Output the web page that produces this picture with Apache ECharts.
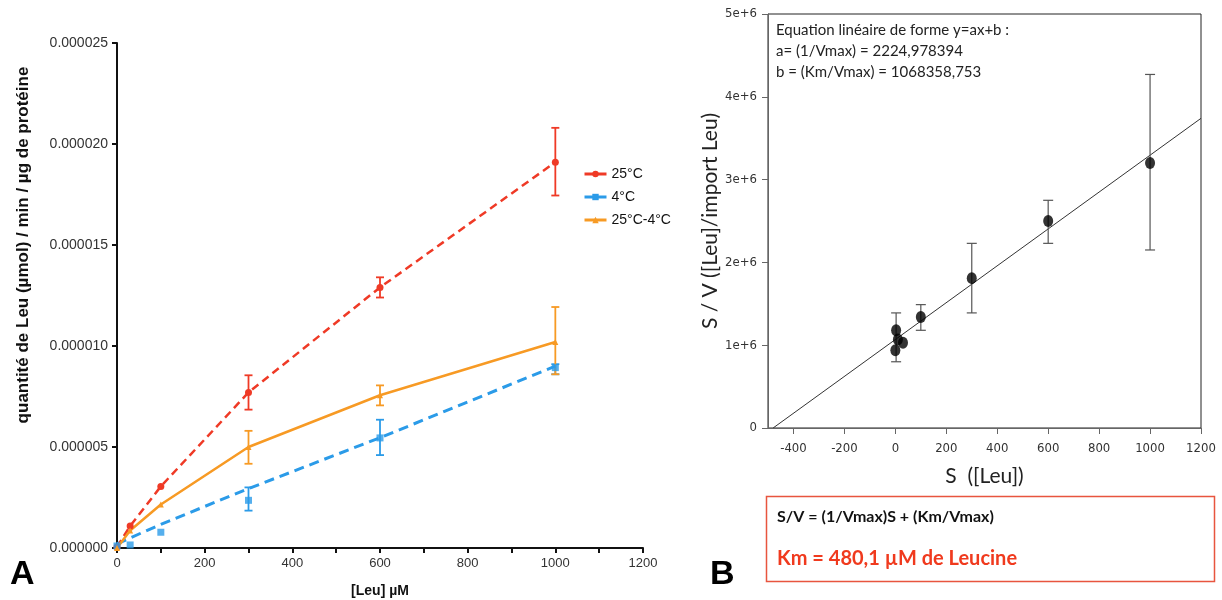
<!DOCTYPE html>
<html>
<head>
<meta charset="utf-8">
<script src="https://cdn.jsdelivr.net/npm/echarts@6/dist/echarts.min.js"></script>
<style>
  html, body { margin: 0; padding: 0; background: #fff; }
  #chart { width: 1222px; height: 600px; }
</style>
</head>
<body>
<div id="chart"></div>
<script>
// A : import de Leu selon [Leu], B : linéarisation S/V = f(S)

// --- données A (valeurs en µmol/min/µg, x1e-6) ---
const leuX = [0, 30, 100, 300, 600, 1000]
const hot = [0.05, 1.09, 3.05, 7.7, 12.9, 19.1]          // 25°C
const hotErr = [[300, 6.85, 8.55], [600, 12.4, 13.4], [1000, 17.45, 20.8]]
const cold = [0.1, 0.15, 0.78, 2.36, 5.45, 8.93]          // 4°C (points)
const coldErr = [[300, 1.85, 3.0], [600, 4.6, 6.35], [1000, 8.6, 9.1]]
const coldFit = [0.2, 0.5, 1.17, 2.94, 5.46, 9.0]         // 4°C (courbe)
const diff = [0, 0.87, 2.15, 5.0, 7.56, 10.2]             // 25°C-4°C
const diffErr = [[300, 4.17, 5.8], [600, 7.06, 8.05], [1000, 8.6, 11.93]]
const yTicksA = [0, 5, 10, 15, 20, 25]

// --- données B ---
const sX = [0, 3, 10, 30, 100, 300, 600, 1000]
const sv = [0.94e6, 1.18e6, 1.07e6, 1.03e6, 1.34e6, 1.81e6, 2.5e6, 3.2e6]
const svErr = [[3, 0.8e6, 1.39e6], [100, 1.18e6, 1.49e6], [300, 1.39e6, 2.23e6], [600, 2.23e6, 2.75e6], [1000, 2.15e6, 4.27e6]]
const fitLine = [[-480, 0], [1200, 3.74e6]]
const xTicksB = [-400, -200, 0, 200, 400, 600, 800, 1000, 1200]

const RED = '#ef3a26'
const BLUE = '#2b9be8'
const ORANGE = '#f79a24'

const scaled = (arr) => arr.map((v) => v * 1e-6)
const pairs = (xs, ys) => xs.map((x, i) => [x, ys[i]])

const errorBars = (xi, yi, rows, color, cap, width) => ({
  type: 'custom',
  xAxisIndex: xi,
  yAxisIndex: yi,
  silent: true,
  z: 3,
  data: rows,
  encode: { x: 0, y: [1, 2] },
  renderItem: (params, api) => {
    const lo = api.coord([api.value(0), api.value(1)])
    const hi = api.coord([api.value(0), api.value(2)])
    const style = { stroke: color, lineWidth: width }
    return {
      type: 'group',
      children: [
        { type: 'line', shape: { x1: lo[0], y1: lo[1], x2: hi[0], y2: hi[1] }, style },
        { type: 'line', shape: { x1: hi[0] - cap, y1: hi[1], x2: hi[0] + cap, y2: hi[1] }, style },
        { type: 'line', shape: { x1: lo[0] - cap, y1: lo[1], x2: lo[0] + cap, y2: lo[1] }, style }
      ]
    }
  }
})

const chart = echarts.init(document.getElementById('chart'))

const option = {
  animation: false,
  backgroundColor: '#fff',
  textStyle: { fontFamily: 'Liberation Sans, Arial, sans-serif' },
  grid: [
    { left: 117, right: 579, top: 43, bottom: 52, outerBoundsMode: 'none' },
    { left: 768, right: 21, top: 14, bottom: 172, outerBoundsMode: 'none',
      show: true, borderColor: '#222', borderWidth: 1 }
  ],
  legend: {
    left: 578,
    top: 162,
    orient: 'vertical',
    itemGap: 9,
    itemWidth: 22,
    itemHeight: 8,
    data: ['25°C', '4°C', '25°C-4°C'],
    lineStyle: { type: 'solid', width: 3 },
    textStyle: { fontSize: 14, color: '#111', fontFamily: 'Liberation Sans, Arial, sans-serif' }
  },
  xAxis: [
    {
      gridIndex: 0,
      type: 'value',
      min: 0,
      max: 1200,
      interval: 200,
      name: '[Leu] µM',
      nameLocation: 'middle',
      nameGap: 36,
      nameTextStyle: { fontSize: 14, fontWeight: 'bold', color: '#111' },
      axisLine: { onZero: false, lineStyle: { color: '#111', width: 2 } },
      axisTick: { length: 5, lineStyle: { color: '#111', width: 2 } },
      minorTick: { show: true, splitNumber: 2, length: 5, lineStyle: { color: '#111', width: 2 } },
      axisLabel: { fontSize: 13, color: '#333', margin: 9, formatter: (v) => String(v) },
      splitLine: { show: false }
    },
    {
      gridIndex: 1,
      type: 'value',
      min: -500,
      max: 1200,
      name: 'S  ([Leu])',
      nameLocation: 'middle',
      nameGap: 38,
      nameTextStyle: { fontSize: 21, color: '#222', fontFamily: 'Lato, Open Sans, sans-serif' },
      axisLine: { onZero: false, lineStyle: { color: '#666', width: 1 } },
      axisTick: { length: 6, customValues: xTicksB, lineStyle: { color: '#666' } },
      axisLabel: {
        customValues: xTicksB,
        fontSize: 13,
        color: '#333',
        margin: 14,
        fontFamily: 'Liberation Sans Narrow, DejaVu Sans Condensed, Liberation Sans, sans-serif',
        formatter: (v) => String(v)
      },
      splitLine: { show: false }
    }
  ],
  yAxis: [
    {
      gridIndex: 0,
      type: 'value',
      min: 0,
      max: 25e-6,
      interval: 5e-6,
      axisLine: { onZero: false, lineStyle: { color: '#111', width: 2 } },
      axisTick: { length: 5, lineStyle: { color: '#111', width: 2 } },
      axisLabel: {
        fontSize: 14,
        color: '#333',
        margin: 9,
        customValues: scaled(yTicksA),
        formatter: (v) => v.toFixed(6)
      },
      splitLine: { show: false }
    },
    {
      gridIndex: 1,
      type: 'value',
      min: 0,
      max: 5e6,
      interval: 1e6,
      name: 'S / V ([Leu]/import Leu)',
      nameLocation: 'middle',
      nameGap: 44,
      nameTextStyle: { fontSize: 21, color: '#222', fontFamily: 'Lato, Open Sans, sans-serif' },
      axisLine: { onZero: false, lineStyle: { color: '#666', width: 1 } },
      axisTick: { length: 6, lineStyle: { color: '#666' } },
      axisLabel: {
        fontSize: 13,
        color: '#333',
        margin: 11,
        fontFamily: 'Liberation Sans Narrow, DejaVu Sans Condensed, Liberation Sans, sans-serif',
        formatter: (v) => (v === 0 ? '0' : v / 1e6 + 'e+6')
      },
      splitLine: { show: false }
    }
  ],
  series: [
    {
      name: '25°C',
      type: 'line',
      xAxisIndex: 0,
      yAxisIndex: 0,
      data: pairs(leuX, scaled(hot)),
      color: RED,
      symbol: 'circle',
      symbolSize: 7,
      lineStyle: { color: RED, width: 2.5, type: [8, 5] },
      z: 4
    },
    errorBars(0, 0, hotErr.map((r) => [r[0], r[1] * 1e-6, r[2] * 1e-6]), RED, 4, 1.8),
    {
      name: '4°C',
      type: 'line',
      xAxisIndex: 0,
      yAxisIndex: 0,
      data: pairs(leuX, scaled(coldFit)),
      color: BLUE,
      symbol: 'rect',
      symbolSize: 7,
      showSymbol: false,
      lineStyle: { color: BLUE, width: 3, type: [10, 6] },
      z: 3
    },
    {
      name: '4°C points',
      type: 'scatter',
      xAxisIndex: 0,
      yAxisIndex: 0,
      data: pairs(leuX, scaled(cold)),
      symbol: 'rect',
      symbolSize: 7,
      itemStyle: { color: BLUE },
      z: 4
    },
    errorBars(0, 0, coldErr.map((r) => [r[0], r[1] * 1e-6, r[2] * 1e-6]), BLUE, 4, 1.8),
    {
      name: '25°C-4°C',
      type: 'line',
      xAxisIndex: 0,
      yAxisIndex: 0,
      data: pairs(leuX, scaled(diff)),
      color: ORANGE,
      symbol: 'triangle',
      symbolSize: 6,
      lineStyle: { color: ORANGE, width: 2.5 },
      z: 4
    },
    errorBars(0, 0, diffErr.map((r) => [r[0], r[1] * 1e-6, r[2] * 1e-6]), ORANGE, 4, 1.8),

    // B
    {
      name: 'droite',
      type: 'line',
      xAxisIndex: 1,
      yAxisIndex: 1,
      data: fitLine,
      symbol: 'none',
      lineStyle: { color: '#333', width: 1 },
      z: 2
    },
    errorBars(1, 1, svErr, '#555', 5, 1.2),
    {
      name: 'S/V',
      type: 'scatter',
      xAxisIndex: 1,
      yAxisIndex: 1,
      data: pairs(sX, sv),
      symbol: 'circle',
      symbolSize: [10, 12],
      itemStyle: { color: '#000' },
      z: 4
    }
  ],
  graphic: [
    {
      // titre de l'axe y de A (texte tourné)
      type: 'text',
      x: 23,
      y: 245,
      rotation: Math.PI / 2,
      style: {
        text: 'quantité de Leu (µmol) / min / µg de protéine',
        font: 'bold 17px Liberation Sans, Arial, sans-serif',
        fill: '#111',
        align: 'center',
        verticalAlign: 'middle'
      }
    },
    { type: 'text', left: 10, top: 558, style: { text: 'A', font: 'bold 34px Liberation Sans, Arial, sans-serif', fill: '#000' } },
    { type: 'text', left: 710, top: 558, style: { text: 'B', font: 'bold 34px Liberation Sans, Arial, sans-serif', fill: '#000' } },
    {
      type: 'text',
      left: 776,
      top: 20,
      style: {
        text: 'Equation linéaire de forme y=ax+b :\na= (1/Vmax) = 2224,978394\nb = (Km/Vmax) = 1068358,753',
        font: '15px Lato, Open Sans, sans-serif',
        lineHeight: 21,
        fill: '#222'
      }
    },
    {
      type: 'rect',
      left: 764,
      top: 494,
      shape: { width: 448, height: 85 },
      style: { fill: 'none', stroke: '#e8553f', lineWidth: 1.5 }
    },
    {
      type: 'text',
      left: 777,
      top: 509,
      style: { text: 'S/V = (1/Vmax)S + (Km/Vmax)', font: 'bold 16px Lato, Open Sans, sans-serif', fill: '#111' }
    },
    {
      type: 'text',
      left: 777,
      top: 549,
      style: { text: 'Km = 480,1 µM de Leucine', font: 'bold 20px Lato, Open Sans, sans-serif', fill: '#f03a1e' }
    }
  ]
}

chart.setOption(option)
</script>
</body>
</html>
